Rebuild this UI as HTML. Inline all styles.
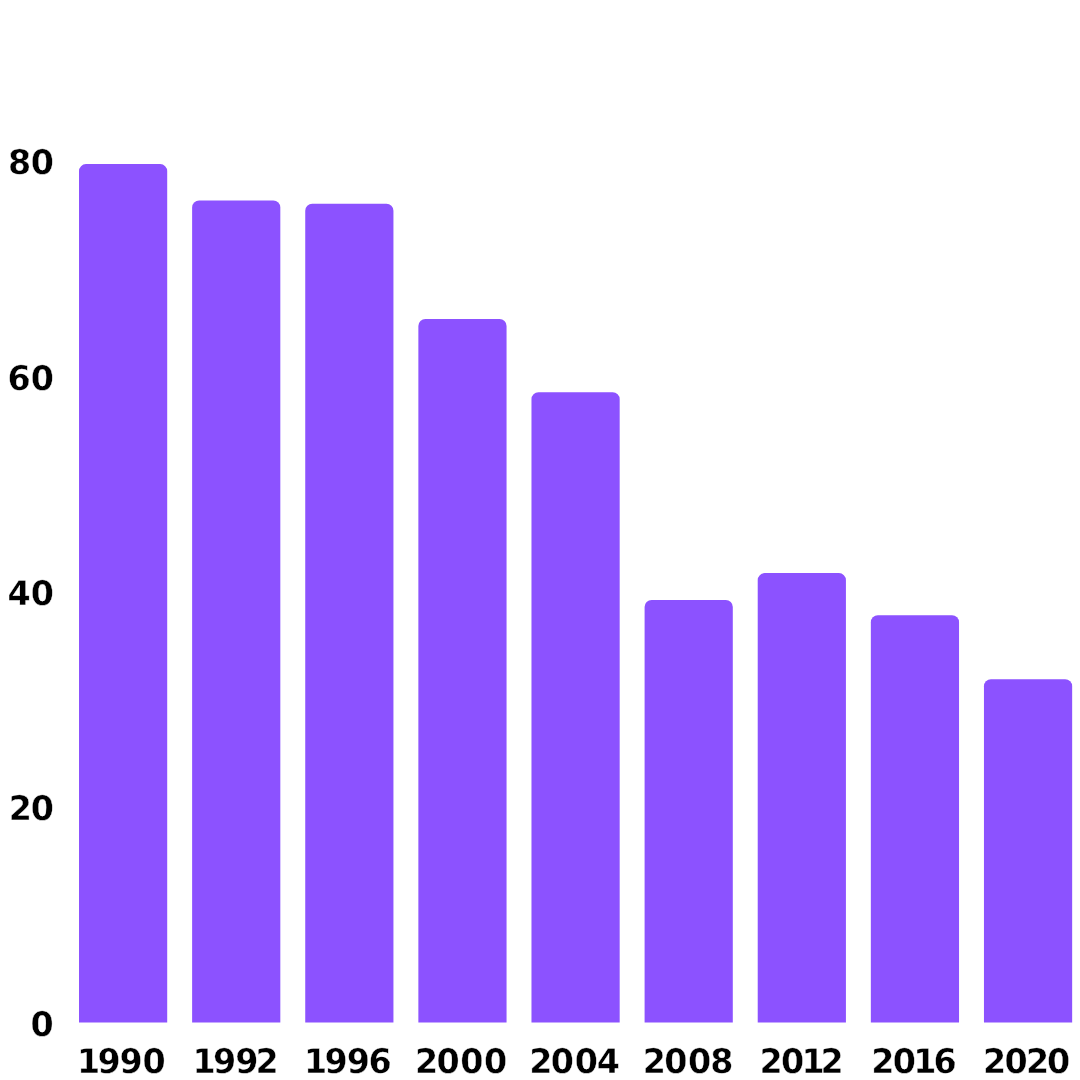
<!DOCTYPE html>
<html lang="en">
<head>
<meta charset="utf-8">
<title>Bar chart</title>
<style>
html,body{margin:0;padding:0;background:#ffffff;}
body{width:1080px;height:1080px;overflow:hidden;}
svg{display:block;}
.bars path{fill:#8c52ff;}
.lbl text{font-family:"DejaVu Sans","Liberation Sans",sans-serif;font-weight:bold;font-size:34.0px;fill:#000000;stroke:#ffffff;stroke-width:0.4px;paint-order:fill stroke;text-rendering:geometricPrecision;}
</style>
</head>
<body>
<svg width="1080" height="1080" viewBox="0 0 1080 1080">
<rect width="1080" height="1080" fill="#ffffff"/>
<g class="bars">
<path d="M79.00 1022.5V171.10a7.0 7.0 0 0 1 7.0 -7.0h74.20a7.0 7.0 0 0 1 7.0 7.0V1022.5z"/>
<path d="M192.12 1022.5V207.50a7.0 7.0 0 0 1 7.0 -7.0h74.20a7.0 7.0 0 0 1 7.0 7.0V1022.5z"/>
<path d="M305.24 1022.5V210.80a7.0 7.0 0 0 1 7.0 -7.0h74.20a7.0 7.0 0 0 1 7.0 7.0V1022.5z"/>
<path d="M418.36 1022.5V325.90a7.0 7.0 0 0 1 7.0 -7.0h74.20a7.0 7.0 0 0 1 7.0 7.0V1022.5z"/>
<path d="M531.48 1022.5V399.20a7.0 7.0 0 0 1 7.0 -7.0h74.20a7.0 7.0 0 0 1 7.0 7.0V1022.5z"/>
<path d="M644.60 1022.5V607.00a7.0 7.0 0 0 1 7.0 -7.0h74.20a7.0 7.0 0 0 1 7.0 7.0V1022.5z"/>
<path d="M757.72 1022.5V580.10a7.0 7.0 0 0 1 7.0 -7.0h74.20a7.0 7.0 0 0 1 7.0 7.0V1022.5z"/>
<path d="M870.84 1022.5V622.20a7.0 7.0 0 0 1 7.0 -7.0h74.20a7.0 7.0 0 0 1 7.0 7.0V1022.5z"/>
<path d="M983.96 1022.5V686.20a7.0 7.0 0 0 1 7.0 -7.0h74.20a7.0 7.0 0 0 1 7.0 7.0V1022.5z"/>
</g>
<g class="lbl" transform="scale(0.98 1)">
<text x="8.29 31.28" y="174.0">80</text>
<text x="7.78 31.28" y="390.0">60</text>
<text x="7.63 31.28" y="605.0">40</text>
<text x="8.92 31.28" y="820.0">20</text>
<text x="31.23" y="1036.0">0</text>
<text x="78.65 99.40 122.05 145.31" y="1073.0">1990</text>
<text x="196.51 217.31 240.01 260.70" y="1073.0">1992</text>
<text x="310.23 331.24 353.89 375.99" y="1073.0">1996</text>
<text x="423.46 445.42 469.70 493.89" y="1073.0">2000</text>
<text x="540.09 562.05 586.39 609.06" y="1073.0">2004</text>
<text x="655.91 677.87 702.15 724.82" y="1073.0">2008</text>
<text x="775.09 797.05 817.93 837.28" y="1073.0">2012</text>
<text x="889.07 911.03 931.91 952.57" y="1073.0">2016</text>
<text x="1003.05 1025.01 1046.82 1068.27" y="1073.0">2020</text>
</g>
</svg>
</body>
</html>
